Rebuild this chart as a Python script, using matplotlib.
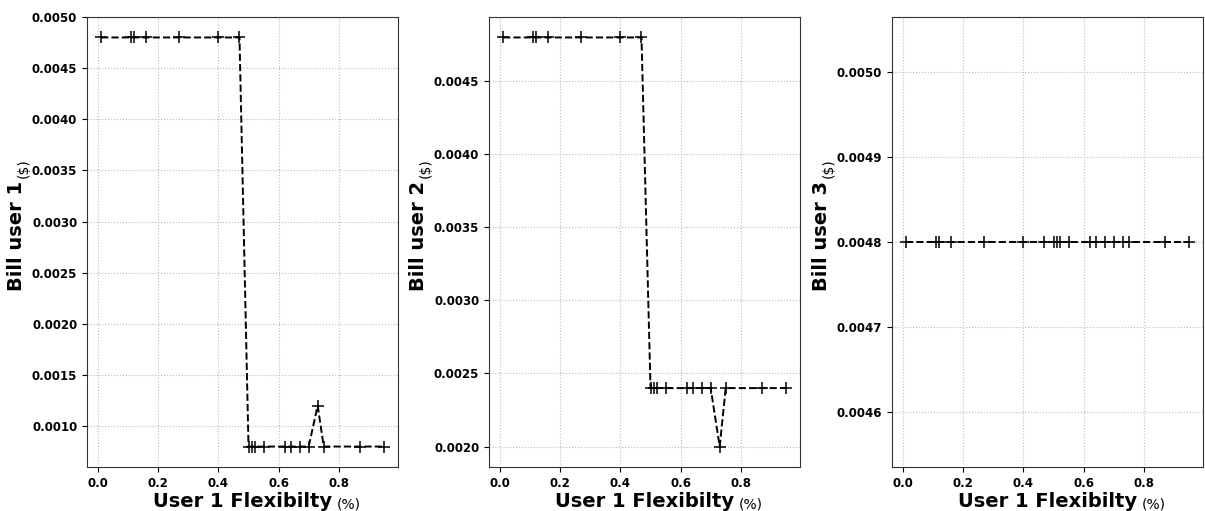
import matplotlib
matplotlib.use("Agg")
import matplotlib.pyplot as plt
import matplotlib.ticker as mticker

flex = [0.01, 0.11, 0.12, 0.16, 0.27, 0.40, 0.47, 0.50, 0.51, 0.52,
        0.55, 0.62, 0.64, 0.67, 0.70, 0.73, 0.75, 0.87, 0.95]
bill_user1 = [0.0048] * 7 + [0.0008] * 8 + [0.0012] + [0.0008] * 3
bill_user2 = [0.0048] * 7 + [0.0024] * 8 + [0.0020] + [0.0024] * 3
bill_user3 = [0.0048] * 19

series = [bill_user1, bill_user2, bill_user3]
ylabels = ["Bill user 1", "Bill user 2", "Bill user 3"]
xlabel = "User 1 Flexibilty"
xunit = "(%)"
yunit = "($)"
xticks = [0.0, 0.2, 0.4, 0.6, 0.8]

fig = plt.figure(figsize=(12.05, 5.11), dpi=100)
lefts = [87 / 1205, 489 / 1205, 892 / 1205]
w = 311 / 1205
b = 1 - 467 / 511
h = (467 - 17) / 511

axes = []
for i, (ys, yl) in enumerate(zip(series, ylabels)):
    ax = fig.add_axes([lefts[i], b, w, h])
    ax.plot(flex, ys, linestyle='--', color='k', marker='+', markersize=9,
            linewidth=1.4, markeredgewidth=1.1)
    ax.grid(True, linestyle=':', color='#bbbbbb', linewidth=0.8)
    ax.set_xticks(xticks)
    ax.set_xticklabels([f"{t:.1f}" for t in xticks])
    ax.yaxis.set_major_formatter(mticker.FormatStrFormatter('%.4f'))
    ax.tick_params(labelsize=8.5)
    for lab in ax.get_xticklabels() + ax.get_yticklabels():
        lab.set_fontweight('bold')
    ax.set_xlabel(xlabel, fontsize=14, fontweight='bold', labelpad=1.5)
    ax.set_ylabel(yl, fontsize=14, fontweight='bold', labelpad=4)
    ax.yaxis.label.set_y(0.513)
    for s in ax.spines.values():
        s.set_color('#333333')
    axes.append(ax)

fig.canvas.draw()
renderer = fig.canvas.get_renderer()
inv = fig.transFigure.inverted()
for ax in axes:
    xl = ax.xaxis.label
    bb = xl.get_window_extent(renderer)
    _, _, d = renderer.get_text_width_height_descent(
        xl.get_text(), xl.get_fontproperties(), ismath=False)
    px, py = inv.transform((bb.x1 + 5, bb.y0 + d - 1.5))
    fig.text(px, py, xunit, fontsize=10, ha='left', va='baseline',
             rotation_mode='anchor')
    yl = ax.yaxis.label
    bb = yl.get_window_extent(renderer)
    _, _, d = renderer.get_text_width_height_descent(
        yl.get_text(), yl.get_fontproperties(), ismath=False)
    px, py = inv.transform((bb.x1 - d + 1.5, bb.y1 + 3))
    fig.text(px, py, yunit, fontsize=10, ha='left', va='baseline',
             rotation=90, rotation_mode='anchor')

fig.savefig("out.png", dpi=100)
